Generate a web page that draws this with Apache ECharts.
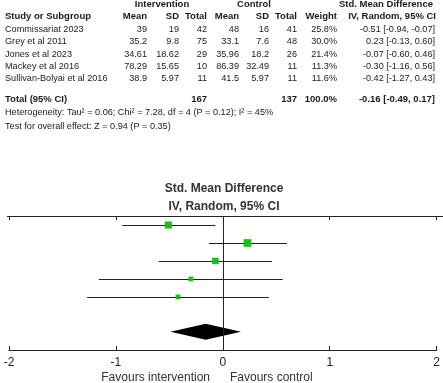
<!DOCTYPE html>
<html><head><meta charset="utf-8">
<script src="https://cdn.jsdelivr.net/npm/echarts@6/dist/echarts.min.js"></script>
<style>html,body{margin:0;padding:0;background:#fff}#c{width:443px;height:383px}</style>
</head><body><div id="c"></div>
<script>
const studies = ['Commissariat 2023','Grey et al 2011','Jones et al 2023','Mackey et al 2016','Sullivan-Bolyai et al 2016'];
const intMean = ['39','35.2','34.61','78.29','38.9'];
const intSD = ['19','9.8','18.62','15.65','5.97'];
const intN = [42,75,29,10,11];
const ctlMean = ['48','33.1','35.96','86.39','41.5'];
const ctlSD = ['16','7.6','18.2','32.49','5.97'];
const ctlN = [41,48,26,11,11];
const weights = [25.8,30.0,21.4,11.3,11.6];
const smd = [-0.51,0.23,-0.07,-0.30,-0.42];
const ciLow = [-0.94,-0.13,-0.60,-1.16,-1.27];
const ciHigh = [-0.07,0.60,0.46,0.56,0.43];
const total = {intN:167, ctlN:137, weight:100.0, smd:-0.16, lo:-0.49, hi:0.17};
const hetText = 'Heterogeneity: Tau\u00b2 = 0.06; Chi\u00b2 = 7.28, df = 4 (P = 0.12); I\u00b2 = 45%';
const testText = 'Test for overall effect: Z = 0.94 (P = 0.35)';
const xTicks = [-2,-1,0,1,2];

const FF = '"Liberation Sans", Arial, sans-serif';
const FS = 9.15;
const FSB = 9.5;
const TC = '#1a1a1a';
const g = [];
function t(text, x, y, align, bold, size, color){
  g.push({type:'text', silent:true, style:{text:String(text), x:x, y:y, align:align||'left', verticalAlign:'middle',
    fontSize:size||(bold?FSB:FS), fontFamily:FF, fontWeight:bold?'bold':'normal', fill:color||TC}});
}
const fmtCI = (m,l,h)=> m.toFixed(2)+' ['+l.toFixed(2)+', '+h.toFixed(2)+']';
// header
t('Intervention',162,4.5,'center',true);
t('Control',254,4.5,'center',true);
t('Std. Mean Difference',386,4.5,'center',true);
const hy = 16;
t('Study or Subgroup',5,hy,'left',true);
t('Mean',147,hy,'right',true); t('SD',179,hy,'right',true); t('Total',207,hy,'right',true);
t('Mean',239,hy,'right',true); t('SD',269,hy,'right',true); t('Total',297,hy,'right',true);
t('Weight',337,hy,'right',true); t('IV, Random, 95% CI',436,hy,'right',true);
studies.forEach((s,i)=>{
  const y = 29.3 + i*12.4;
  t(s,5,y,'left');
  t(intMean[i],147,y,'right'); t(intSD[i],179,y,'right'); t(intN[i],207,y,'right');
  t(ctlMean[i],239,y,'right'); t(ctlSD[i],269,y,'right'); t(ctlN[i],297,y,'right');
  t(weights[i].toFixed(1)+'%',337,y,'right');
  t(fmtCI(smd[i],ciLow[i],ciHigh[i]),435,y,'right');
});
t('Total (95% CI)',5,99.3,'left',true);
t(total.intN,207,99.3,'right',true); t(total.ctlN,297,99.3,'right',true);
t(total.weight.toFixed(1)+'%',337,99.3,'right',true);
t(fmtCI(total.smd,total.lo,total.hi),435,99.3,'right',true);
t(hetText,5,112.7,'left');
t(testText,5,126,'left');
// plot title
t('Std. Mean Difference',224,189,'center',true,12,'#333');
t('IV, Random, 95% CI',224,207,'center',true,12,'#333');
t('Favours intervention',210,378,'right',false,12,'#333');
t('Favours control',230,378,'left',false,12,'#333');
g.push({type:'line', silent:true, shape:{x1:7,y1:216.5,x2:443,y2:216.5}, style:{stroke:'#222',lineWidth:1}});

const studyData = studies.map((s,i)=>[smd[i], i+0.5, ciLow[i], ciHigh[i], weights[i]]);
const diamondData = [[total.smd, 6.44, total.lo, total.hi]];

const baseAxis = {type:'value', min:-2, max:2, interval:1, position:'bottom',
  splitLine:{show:false}, axisLine:{lineStyle:{color:'#222',width:1}}};
const option = {
  animation:false,
  grid:{left:9, right:4, top:216, bottom:33},
  xAxis:[
    Object.assign({}, baseAxis, {axisTick:{show:true,length:4,lineStyle:{color:'#222'}},
      axisLabel:{fontSize:12, fontFamily:FF, color:'#222', margin:7,
        formatter:v=> xTicks.indexOf(v)>=0 ? String(v) : ''}}),
    Object.assign({}, baseAxis, {axisTick:{show:true,inside:true,length:4,lineStyle:{color:'#222'}},
      axisLabel:{show:false}})
  ],
  yAxis:{type:'value', min:0, max:7.45, inverse:true, show:false},
  series:[
    {type:'custom', xAxisIndex:0, data:studyData, z:3,
      markLine:{silent:true, symbol:'none', label:{show:false}, lineStyle:{color:'#222',type:'solid',width:1},
        data:[{xAxis:0}]},
      renderItem:(params, api)=>{
        const m = api.coord([api.value(0), api.value(1)]);
        const l = api.coord([api.value(2), api.value(1)]);
        const h = api.coord([api.value(3), api.value(1)]);
        const sz = Math.sqrt(api.value(4))*1.4;
        const y = Math.round(m[1])+0.5;
        return {type:'group', children:[
          {type:'line', shape:{x1:l[0],y1:y,x2:h[0],y2:y}, style:{stroke:'#222',lineWidth:1}},
          {type:'rect', shape:{x:m[0]-sz/2,y:m[1]-sz/2,width:sz,height:sz}, style:{fill:'#12c312'}}
        ]};
      }},
    {type:'custom', xAxisIndex:0, data:diamondData, z:3,
      renderItem:(params, api)=>{
        const m = api.coord([api.value(0), api.value(1)]);
        const l = api.coord([api.value(2), api.value(1)]);
        const h = api.coord([api.value(3), api.value(1)]);
        return {type:'polygon', shape:{points:[[l[0],m[1]],[m[0],m[1]-8],[h[0],m[1]],[m[0],m[1]+8]]},
          style:{fill:'#000'}};
      }}
  ],
  graphic:g
};
echarts.init(document.getElementById('c')).setOption(option);
</script></body></html>
